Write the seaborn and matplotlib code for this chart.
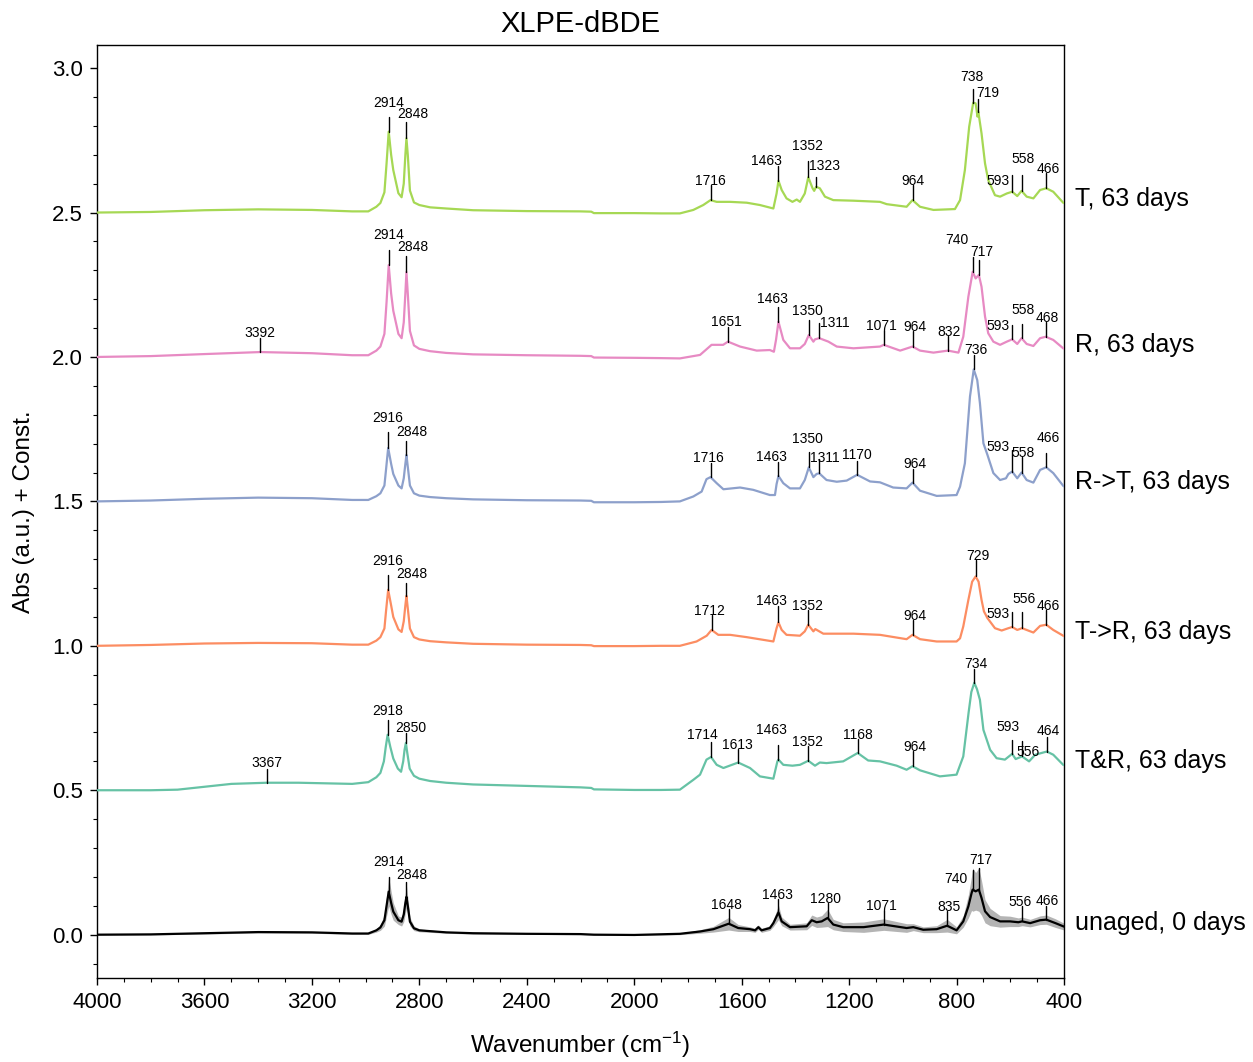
import numpy as np
import pandas as pd
import matplotlib
matplotlib.use("Agg")
import matplotlib.pyplot as plt
from matplotlib.ticker import MultipleLocator
import seaborn as sns

# ---------------- data ----------------
samples = ["unaged, 0 days", "T&R, 63 days", "T->R, 63 days",
           "R->T, 63 days", "R, 63 days", "T, 63 days"]
offsets = [0.0, 0.5, 1.0, 1.5, 2.0, 2.5]

wn_unaged = [4000, 3800, 3600, 3400, 3200, 3050, 2990, 2960, 2945, 2930, 2922, 2914, 2905, 2897,
             2878, 2866, 2858, 2852, 2848, 2843, 2835, 2820, 2800, 2700, 2600, 2400, 2200, 2150,
             2000, 1830, 1755, 1705, 1648, 1613, 1569, 1550, 1538, 1526, 1495, 1482, 1463, 1451,
             1420, 1358, 1339, 1321, 1302, 1280, 1259, 1222, 1146, 1071, 986, 961, 924, 874, 835,
             800, 775, 756, 744, 740, 729, 717, 707, 694, 675, 638, 601, 570, 556, 526, 489, 466,
             432, 403, 400]
abs_unaged = [0.0, 0.001, 0.005, 0.009, 0.008, 0.004, 0.004, 0.015, 0.025, 0.05, 0.1, 0.149, 0.11, 0.08,
              0.05, 0.045, 0.07, 0.11, 0.131, 0.1, 0.045, 0.022, 0.015, 0.008, 0.005, 0.003, 0.002, 0.0,
              -0.001, 0.003, 0.011, 0.019, 0.038, 0.023, 0.019, 0.015, 0.026, 0.015, 0.023, 0.040, 0.077, 0.046,
              0.026, 0.029, 0.050, 0.043, 0.046, 0.058, 0.035, 0.026, 0.026, 0.035, 0.023, 0.026, 0.017, 0.019, 0.031,
              0.015, 0.046, 0.098, 0.144, 0.156, 0.150, 0.156, 0.127, 0.081, 0.061, 0.046, 0.046, 0.043, 0.046, 0.040, 0.050, 0.052,
              0.040, 0.029, 0.028]
sd_unaged = [0.002, 0.002, 0.003, 0.003, 0.003, 0.003, 0.003, 0.006, 0.01, 0.02, 0.035, 0.05, 0.04, 0.03,
             0.015, 0.015, 0.025, 0.035, 0.04, 0.03, 0.015, 0.008, 0.005, 0.003, 0.003, 0.002, 0.002, 0.002,
             0.002, 0.003, 0.006, 0.01, 0.022, 0.012, 0.008, 0.007, 0.008, 0.007, 0.008, 0.012, 0.025, 0.015,
             0.01, 0.012, 0.018, 0.018, 0.02, 0.03, 0.018, 0.015, 0.018, 0.02, 0.015, 0.012, 0.01, 0.012, 0.022,
             0.012, 0.02, 0.04, 0.06, 0.075, 0.065, 0.075, 0.06, 0.04, 0.03, 0.02, 0.018, 0.015, 0.015, 0.013, 0.015, 0.016,
             0.015, 0.012, 0.012]

wn_TR = [4000, 3800, 3700, 3600, 3500, 3367, 3250, 3150, 3050, 2990, 2960, 2945, 2932, 2925, 2918, 2908,
         2897, 2880, 2868, 2860, 2855, 2850, 2845, 2836, 2820, 2800, 2760, 2700, 2600, 2400, 2200, 2160,
         2150, 2000, 1900, 1830, 1780, 1755, 1731, 1714, 1693, 1668, 1613, 1569, 1532, 1482, 1467, 1463,
         1445, 1411, 1383, 1352, 1327, 1309, 1284, 1222, 1168, 1129, 1085, 1023, 986, 964, 936, 862, 800,
         775, 755, 745, 734, 724, 713, 700, 675, 651, 620, 593, 580, 556, 530, 507, 464, 440, 403, 400]
abs_TR = [0.0, 0.0, 0.002, 0.012, 0.022, 0.026, 0.026, 0.024, 0.022, 0.028, 0.045, 0.06, 0.1, 0.15, 0.192, 0.15,
          0.11, 0.075, 0.064, 0.1, 0.14, 0.164, 0.13, 0.075, 0.05, 0.04, 0.032, 0.026, 0.02, 0.015, 0.01, 0.008,
          0.003, 0.001, 0.001, 0.002, 0.036, 0.054, 0.106, 0.115, 0.088, 0.077, 0.096, 0.077, 0.048, 0.040, 0.100, 0.106,
          0.088, 0.085, 0.088, 0.102, 0.085, 0.096, 0.094, 0.100, 0.129, 0.103, 0.100, 0.085, 0.071, 0.083, 0.069, 0.048, 0.054,
          0.117, 0.27, 0.34, 0.372, 0.35, 0.313, 0.209, 0.140, 0.111, 0.106, 0.126, 0.108, 0.117, 0.100, 0.123, 0.134, 0.123, 0.088, 0.087]

wn_T2R = [4000, 3800, 3600, 3400, 3200, 3050, 2990, 2960, 2945, 2930, 2924, 2916, 2905, 2897, 2878, 2866,
          2858, 2852, 2848, 2843, 2835, 2820, 2800, 2760, 2700, 2600, 2400, 2200, 2160, 2150, 2000, 1900,
          1830, 1768, 1730, 1712, 1687, 1643, 1581, 1482, 1470, 1463, 1451, 1433, 1383, 1365, 1352, 1333,
          1326, 1296, 1184, 1085, 986, 964, 936, 874, 800, 787, 775, 756, 742, 729, 718, 707, 698, 685,
          657, 632, 607, 593, 574, 556, 514, 489, 466, 440, 403, 400]
abs_T2R = [0.0, 0.003, 0.008, 0.01, 0.009, 0.004, 0.004, 0.018, 0.03, 0.06, 0.12, 0.194, 0.14, 0.10, 0.057, 0.048,
           0.085, 0.14, 0.173, 0.13, 0.06, 0.03, 0.022, 0.016, 0.012, 0.007, 0.004, 0.003, 0.002, -0.001, -0.001, 0.0,
           0.0, 0.015, 0.035, 0.055, 0.038, 0.038, 0.030, 0.015, 0.061, 0.081, 0.055, 0.038, 0.035, 0.050, 0.073, 0.050,
           0.058, 0.042, 0.042, 0.038, 0.023, 0.038, 0.023, 0.015, 0.015, 0.026, 0.067, 0.159, 0.222, 0.240, 0.222, 0.159, 0.119, 0.096,
           0.061, 0.053, 0.061, 0.065, 0.055, 0.061, 0.046, 0.069, 0.073, 0.055, 0.035, 0.034]

wn_R2T = [4000, 3800, 3600, 3400, 3200, 3050, 2990, 2960, 2945, 2930, 2924, 2916, 2905, 2897, 2878, 2866,
          2858, 2852, 2848, 2843, 2835, 2820, 2800, 2760, 2700, 2600, 2400, 2200, 2160, 2150, 2000, 1900,
          1830, 1780, 1749, 1731, 1716, 1693, 1668, 1606, 1557, 1495, 1476, 1470, 1463, 1445, 1420, 1383,
          1365, 1350, 1333, 1321, 1311, 1284, 1246, 1209, 1170, 1122, 1085, 1036, 986, 964, 936, 874, 800,
          787, 769, 750, 736, 723, 713, 700, 685, 663, 638, 616, 607, 593, 574, 558, 539, 514, 489, 466,
          440, 403, 400]
abs_R2T = [0.0, 0.003, 0.009, 0.013, 0.011, 0.005, 0.005, 0.018, 0.028, 0.055, 0.11, 0.185, 0.13, 0.095, 0.055, 0.045,
           0.08, 0.13, 0.161, 0.12, 0.055, 0.028, 0.02, 0.015, 0.011, 0.007, 0.004, 0.003, 0.002, -0.003, -0.003, -0.002,
           0.0, 0.017, 0.034, 0.077, 0.084, 0.063, 0.042, 0.048, 0.040, 0.022, 0.022, 0.06, 0.088, 0.063, 0.045, 0.045,
           0.074, 0.118, 0.084, 0.095, 0.097, 0.074, 0.068, 0.072, 0.092, 0.069, 0.066, 0.048, 0.045, 0.065, 0.037, 0.019, 0.022,
           0.051, 0.132, 0.363, 0.457, 0.420, 0.340, 0.201, 0.161, 0.098, 0.074, 0.080, 0.095, 0.103, 0.080, 0.100, 0.074, 0.065, 0.109, 0.118,
           0.098, 0.054, 0.052]

wn_R = [4000, 3800, 3600, 3392, 3200, 3050, 2990, 2960, 2945, 2930, 2922, 2914, 2905, 2897, 2878, 2866,
        2858, 2852, 2848, 2843, 2835, 2820, 2800, 2760, 2700, 2600, 2400, 2200, 2160, 2150, 2000, 1900,
        1830, 1755, 1712, 1669, 1651, 1606, 1544, 1495, 1480, 1472, 1463, 1445, 1420, 1383, 1365, 1350,
        1333, 1327, 1311, 1277, 1246, 1184, 1085, 1071, 1010, 964, 936, 886, 832, 793, 775, 756, 740,
        729, 717, 707, 694, 682, 663, 638, 613, 593, 574, 558, 539, 514, 489, 468, 440, 403, 400]
abs_R = [0.0, 0.003, 0.010, 0.017, 0.013, 0.006, 0.006, 0.022, 0.036, 0.08, 0.19, 0.318, 0.22, 0.16, 0.08, 0.065,
         0.12, 0.22, 0.294, 0.22, 0.09, 0.04, 0.028, 0.02, 0.014, 0.009, 0.006, 0.004, 0.003, -0.002, -0.003, -0.004,
         -0.005, 0.007, 0.042, 0.042, 0.053, 0.036, 0.022, 0.024, 0.018, 0.06, 0.122, 0.059, 0.030, 0.030, 0.045, 0.076,
         0.053, 0.061, 0.065, 0.053, 0.036, 0.030, 0.036, 0.042, 0.022, 0.036, 0.022, 0.015, 0.022, 0.015, 0.070, 0.209, 0.295,
         0.272, 0.284, 0.243, 0.140, 0.082, 0.053, 0.042, 0.053, 0.061, 0.045, 0.065, 0.045, 0.038, 0.065, 0.070, 0.059, 0.030, 0.029]

wn_T = [4000, 3800, 3600, 3400, 3200, 3050, 2990, 2960, 2945, 2930, 2922, 2914, 2905, 2897, 2878, 2866,
        2858, 2852, 2848, 2843, 2835, 2820, 2800, 2760, 2700, 2600, 2400, 2200, 2160, 2150, 2000, 1900,
        1830, 1780, 1743, 1716, 1693, 1643, 1581, 1532, 1482, 1470, 1463, 1451, 1433, 1411, 1395, 1383,
        1365, 1352, 1336, 1330, 1323, 1309, 1290, 1259, 1184, 1085, 1060, 986, 964, 936, 886, 806, 787,
        769, 753, 738, 729, 722, 719, 707, 694, 682, 657, 638, 613, 593, 574, 558, 539, 514, 489, 466,
        440, 403, 400]
abs_T = [0.0, 0.002, 0.008, 0.011, 0.009, 0.004, 0.004, 0.02, 0.033, 0.07, 0.17, 0.280, 0.2, 0.147, 0.067, 0.053,
         0.1, 0.2, 0.257, 0.2, 0.076, 0.035, 0.026, 0.018, 0.014, 0.008, 0.005, 0.004, 0.003, -0.002, -0.002, -0.003,
         -0.003, 0.009, 0.026, 0.043, 0.037, 0.037, 0.034, 0.026, 0.014, 0.066, 0.110, 0.078, 0.049, 0.037, 0.045, 0.037,
         0.066, 0.122, 0.084, 0.075, 0.089, 0.084, 0.055, 0.043, 0.041, 0.037, 0.029, 0.020, 0.043, 0.020, 0.009, 0.012, 0.043,
         0.147, 0.297, 0.380, 0.378, 0.332, 0.349, 0.274, 0.170, 0.112, 0.060, 0.055, 0.066, 0.072, 0.057, 0.075, 0.055, 0.049, 0.078, 0.084,
         0.072, 0.034, 0.033]

peaks_unaged = [2914, 2848, 1648, 1463, 1280, 1071, 835, 740, 717, 556, 466]
peaks_TR = [3367, 2918, 2850, 1714, 1613, 1463, 1352, 1168, 964, 734, 593, 556, 464]
peaks_T2R = [2916, 2848, 1712, 1463, 1352, 964, 729, 593, 556, 466]
peaks_R2T = [2916, 2848, 1716, 1463, 1350, 1311, 1170, 964, 736, 593, 558, 466]
peaks_R = [3392, 2914, 2848, 1651, 1463, 1350, 1311, 1071, 964, 832, 740, 717, 593, 558, 468]
peaks_T = [2914, 2848, 1716, 1463, 1352, 1323, 964, 738, 719, 593, 558, 466]

# ---------------- label layout (pixels): line length, text dx, text gap ----------------
lay_unaged = [(15, 0, 11), (15, 5, 3), (15, -2, 0), (13, -1, 0), (15, -2, 0), (15, -2, 0),
              (15, 2, 0), (20, -17, -13), (22, 2, 4), (15, -2, 0), (14, 1, 1)]
lay_TR = [(14, 0, 2), (15, 0, 5), (10, 5, 1), (15, -9, 3), (14, -1, 0), (15, -7, 11), (15, -1, 0),
          (14, 0, 0), (15, 2, 0), (14, 2, 1), (14, -4, 9), (15, 6, -15), (15, 1, 2)]
lay_T2R = [(15, 0, 10), (13, 5, 5), (15, -2, 0), (16, -7, 1), (15, -1, 0), (15, 2, 0), (16, 2, 0),
           (15, -14, -6), (16, 2, 9), (15, 2, 0)]
lay_R2T = [(16, 0, 10), (14, 5, 5), (14, -2, 1), (14, -7, 1), (15, -1, 9), (14, 6, -3), (14, 0, 2),
           (14, 2, 1), (14, 2, 1), (22, -14, -1), (16, 2, 0), (14, 2, 11)]
lay_R = [(14, 0, 1), (15, 0, 11), (16, 6, 5), (15, -2, 1), (15, -6, 4), (15, -1, 5), (15, 16, -4),
         (15, -2, 0), (16, 2, 0), (15, 1, 0), (15, -16, 13), (15, 3, 4), (14, -14, -5), (14, 2, 10), (15, 2, 0)]
lay_T = [(15, 0, 10), (16, 6, 4), (15, 0, 0), (15, -12, 1), (16, -1, 11), (10, 8, 7), (15, 0, 0),
         (14, -1, 8), (13, 9, 2), (17, -14, -10), (16, 2, 12), (15, 2, 0)]

# ---------------- plotting ----------------
sns.set_theme(style="ticks")
plt.rcParams["font.family"] = ["Liberation Sans", "DejaVu Sans"]
plt.rcParams["mathtext.default"] = "regular"

colors = ["black", "#66c2a5", "#fc8d62", "#8da0cb", "#e78ac3", "#a6d854"]
series_wn = [wn_unaged, wn_TR, wn_T2R, wn_R2T, wn_R, wn_T]
series_abs = [abs_unaged, abs_TR, abs_T2R, abs_R2T, abs_R, abs_T]
series_peaks = [peaks_unaged, peaks_TR, peaks_T2R, peaks_R2T, peaks_R, peaks_T]
series_lay = [lay_unaged, lay_TR, lay_T2R, lay_R2T, lay_R, lay_T]

frames = []
for name, off, wn, ab in zip(samples, offsets, series_wn, series_abs):
    frames.append(pd.DataFrame({"wn": wn, "y": np.array(ab) + off, "sample": name}))
df = pd.concat(frames, ignore_index=True)

fig = plt.figure(figsize=(12.53, 10.62), dpi=100)
ax = fig.add_axes([97 / 1253, 1 - 978 / 1062, (1064 - 97) / 1253, (978 - 45) / 1062])

m = np.array(abs_unaged)
s = np.array(sd_unaged)
ax.fill_between(wn_unaged, m - s, m + s, color="#b4b4b4", lw=0, zorder=1)

sns.lineplot(data=df, x="wn", y="y", hue="sample", hue_order=samples, palette=colors,
             sort=False, estimator=None, legend=False, lw=1.6, ax=ax, zorder=3)
for line in ax.lines:
    line.set_zorder(3)

ax.set_xlim(4000, 400)
ax.set_ylim(-0.15, 3.08)
ax.xaxis.set_major_locator(MultipleLocator(400))
ax.xaxis.set_minor_locator(MultipleLocator(100))
ax.yaxis.set_major_locator(MultipleLocator(0.5))
ax.yaxis.set_minor_locator(MultipleLocator(0.1))
ax.tick_params(axis="both", which="major", direction="out", length=5, width=1,
               labelsize=16, color="black", labelcolor="black", pad=5)
ax.tick_params(axis="both", which="minor", direction="out", length=3, width=0.8, color="black")
for sp in ax.spines.values():
    sp.set_visible(True)
    sp.set_color("black")
    sp.set_linewidth(1.0)

ax.set_xlabel("Wavenumber (cm$^{-1}$)", fontsize=17.5, color="black", labelpad=12)
ax.set_ylabel("Abs (a.u.) + Const.", fontsize=17.5, color="black", labelpad=12)
ax.set_title("XLPE-dBDE", fontsize=21, color="black", pad=9)

fig.canvas.draw()
ppu = ax.transData.transform((0, 1))[1] - ax.transData.transform((0, 0))[1]

for name, off, wn, ab, pks, lay in zip(samples, offsets, series_wn, series_abs, series_peaks, series_lay):
    xs = np.array(wn)[::-1]
    ys = np.array(ab)[::-1]
    for p, (L, dx, gap) in zip(pks, lay):
        y0 = off + float(np.interp(p, xs, ys))
        y1 = y0 + L / ppu
        ax.plot([p, p], [y0, y1], color="black", lw=1.0, zorder=4)
        ax.annotate(str(p), xy=(p, y1), xytext=(dx, gap), textcoords="offset pixels",
                    ha="center", va="baseline", fontsize=10, color="black", zorder=5)
    ax.annotate(name, xy=(400, off + ab[-1]), xytext=(11, 4), textcoords="offset pixels",
                ha="left", va="center", fontsize=18, color="black", annotation_clip=False)

fig.savefig("out.png", dpi=100)
